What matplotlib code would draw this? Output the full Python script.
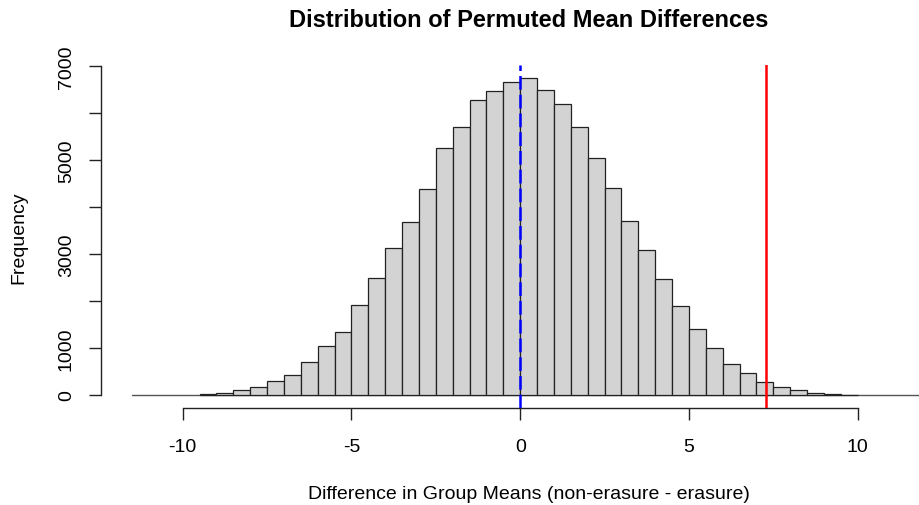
import matplotlib
matplotlib.use("Agg")
import matplotlib.pyplot as plt
import numpy as np

plt.rcParams['font.family'] = ['Liberation Sans', 'DejaVu Sans']
plt.rcParams['axes.unicode_minus'] = False

# histogram data (bin width 0.5, from -9.5 to 10)
bin_edges = [-9.5 + 0.5 * i for i in range(40)]
counts = [25, 50, 100, 170, 306, 434, 712, 1040, 1344, 1906,
          2497, 3130, 3678, 4382, 5257, 5712, 6281, 6459, 6666, 6751,
          6495, 6189, 5712, 5050, 4403, 3706, 3087, 2475, 1892, 1394,
          1010, 668, 469, 271, 160, 115, 50, 15, 8]
null_mean = 0.0
observed_diff = 7.28
x_ticks = [-10, -5, 0, 5, 10]
y_ticks = [0, 1000, 2000, 3000, 4000, 5000, 6000, 7000]
y_labels = ['0', '1000', '', '3000', '', '5000', '', '7000']

W, H = 919, 506
fig = plt.figure(figsize=(W / 100, H / 100), dpi=100)
left_px, right_px, top_px, bot_px = 131.7, 926.0, 66.0, 408.7
ax = fig.add_axes([left_px / W, (H - bot_px) / H, (right_px - left_px) / W, (bot_px - top_px) / H])

px_per_unit = 33.75
zero_px = 520.2
ax.set_xlim((left_px - zero_px) / px_per_unit, (right_px - zero_px) / px_per_unit)
M = max(counts)
ax.set_ylim(-0.04 * M, 1.04 * M)

lefts = bin_edges[:len(counts)]
ax.bar(lefts, counts, width=0.5, align='edge', color='#D3D3D3',
       edgecolor='#222222', linewidth=0.9, zorder=2)
ax.axhline(0, color='#555555', linewidth=1.0, zorder=1)

ax.axvline(null_mean, color='blue', linewidth=1.8, linestyle=(0, (5.5, 2.0)), zorder=3)
ax.axvline(observed_diff, color='red', linewidth=1.8, zorder=3)

for s in ['top', 'right']:
    ax.spines[s].set_visible(False)
ax.spines['bottom'].set_bounds(-10, 10)
ax.spines['left'].set_bounds(0, 7000)
ax.spines['left'].set_position(('outward', 31 * 0.72))
for s in ['bottom', 'left']:
    ax.spines[s].set_linewidth(1.0)
    ax.spines[s].set_color('#222222')

ax.set_xticks(x_ticks)
ax.set_xticklabels([str(t) for t in x_ticks])
ax.set_yticks(y_ticks)
ax.set_yticklabels(y_labels, rotation=90, va='center')
ax.tick_params(axis='both', direction='out', length=8.6, width=1.0, color='#222222', labelsize=14)
ax.tick_params(axis='x', pad=13)
ax.tick_params(axis='y', pad=10)

ax.set_xlabel('Difference in Group Means (non-erasure - erasure)', fontsize=14, labelpad=22)
ax.set_ylabel('Frequency', fontsize=14, labelpad=22)
ax.set_title('Distribution of Permuted Mean Differences', fontsize=17, fontweight='bold', pad=28)

fig.savefig('out.png', dpi=100)
